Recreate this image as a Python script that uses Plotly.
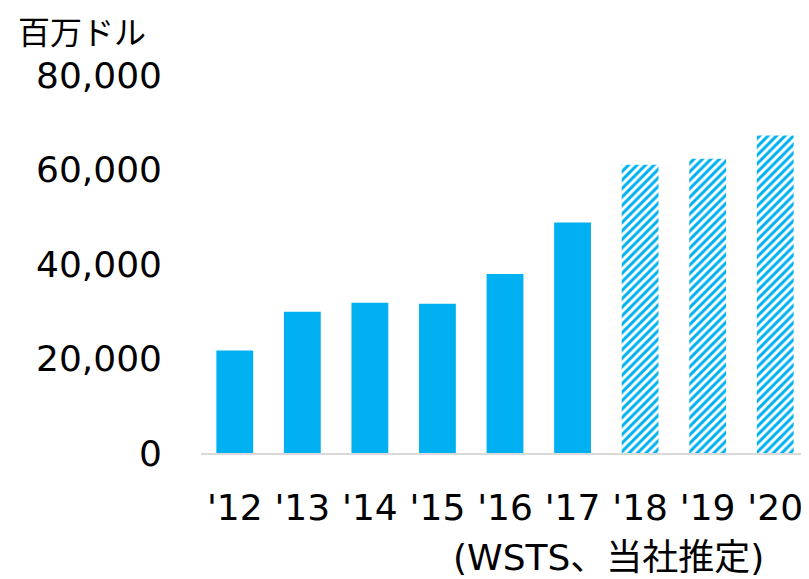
import plotly.graph_objects as go

categories = ["'12", "'13", "'14", "'15", "'16", "'17", "'18", "'19", "'20"]
values = [21700, 29900, 31800, 31600, 37900, 48800, 61000, 62300, 67200]
forecast = [False, False, False, False, False, False, True, True, True]
y_ticks = [0, 20000, 40000, 60000, 80000]

BLUE = "#00B0F0"
FONT = "DejaVu Sans, Noto Sans CJK JP, sans-serif"
JP = "Noto Sans CJK JP, sans-serif"

# page body has an 8px margin; figure drawn inside 801x571
OFF = 8
W, H = 809 - OFF, 579 - OFF
L, R, T = 201 - OFF, 0, 75 - OFF
B = H - (453 - OFF)

shapes = ["/" if f else "" for f in forecast]

fig = go.Figure(go.Bar(
    x=categories,
    y=values,
    marker=dict(
        color=[BLUE] * len(values),
        line=dict(width=0),
        pattern=dict(
            shape=shapes,
            fgcolor=[BLUE] * len(values),
            bgcolor=["white"] * len(values),
            size=6, solidity=0.5, fillmode="replace",
        ),
    ),
))

pw = W - L - R
ph = H - T - B

def px_to_paper(px, py):
    return (px - OFF - L) / pw, (H - B - (py - OFF)) / ph

ax1, ay1 = px_to_paper(16, 30)
ax2, ay2 = px_to_paper(608, 557)

fig.update_layout(
    width=W, height=H,
    margin=dict(l=L, r=R, t=T, b=B, pad=0),
    plot_bgcolor="white", paper_bgcolor="white",
    bargap=0.455,
    showlegend=False,
    font=dict(family=FONT, size=36, color="#000000"),
    xaxis=dict(
        showline=True, linecolor="#D9D9D9", linewidth=2,
        ticks="", showgrid=False, ticklabelstandoff=22,
        tickfont=dict(size=36), automargin=False,
    ),
    yaxis=dict(
        range=[0, 80000], tickvals=y_ticks, tickformat=",",
        showgrid=False, zeroline=False, showline=False, ticks="",
        ticklabelstandoff=38, tickfont=dict(size=36), automargin=False,
    ),
    annotations=[
        dict(text="百万ドル", x=ax1, y=ay1, xref="paper", yref="paper",
             showarrow=False, xanchor="left", yanchor="middle",
             font=dict(family=JP, size=32, color="#000000")),
        dict(text="(WSTS、当社推定)", x=ax2, y=ay2, xref="paper", yref="paper",
             showarrow=False, xanchor="center", yanchor="middle",
             font=dict(family=FONT, size=36, color="#000000")),
    ],
)

fig.write_html("out.html")
